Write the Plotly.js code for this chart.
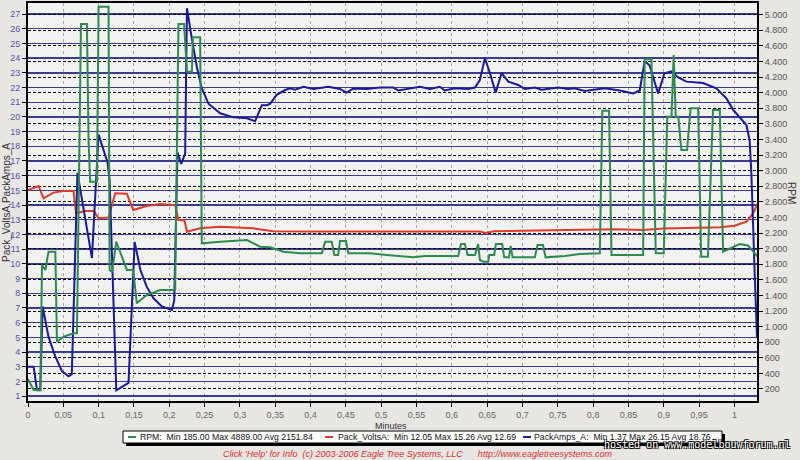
<!DOCTYPE html>
<html>
<head>
<meta charset="utf-8">
<script src="https://cdn.plot.ly/plotly-3.0.1.min.js"></script>
<style>
  html, body { margin: 0; padding: 0; background: #e8e6e2; }
  #chart { width: 800px; height: 460px; }
</style>
</head>
<body>
<div id="chart"></div>
<script>
// ---- Data (minutes, values) ----
const rpmMinutes = [0, 0.008, 0.0174, 0.0198, 0.0246, 0.029, 0.0387, 0.041, 0.0505, 0.0645, 0.0693, 0.075, 0.0834, 0.0857, 0.088, 0.0976, 0.0999, 0.114, 0.1155, 0.119, 0.125, 0.14, 0.149, 0.154, 0.168, 0.187, 0.2083, 0.213, 0.221, 0.225, 0.232, 0.2334, 0.2437, 0.246, 0.272, 0.31, 0.3286, 0.3427, 0.3545, 0.3616, 0.385, 0.416, 0.4205, 0.43, 0.4337, 0.439, 0.4417, 0.4502, 0.4535, 0.484, 0.5078, 0.5454, 0.562, 0.609, 0.6129, 0.6185, 0.6223, 0.6327, 0.6373, 0.6397, 0.6444, 0.6515, 0.653, 0.66, 0.6624, 0.6713, 0.6741, 0.681, 0.6832, 0.686, 0.7175, 0.7213, 0.729, 0.7327, 0.76, 0.781, 0.8095, 0.813, 0.8226, 0.826, 0.8708, 0.873, 0.8826, 0.8887, 0.9, 0.905, 0.911, 0.914, 0.917, 0.9206, 0.9249, 0.933, 0.938, 0.9487, 0.953, 0.9625, 0.9697, 0.9793, 0.984, 1.0075, 1.0193, 1.033];
const rpmValues = [324, 187, 187, 1790, 1726, 1960, 1960, 806, 870, 914, 914, 4880, 4880, 3392, 2858, 2858, 5100, 5100, 1726, 1700, 2088, 1726, 1726, 1299, 1405, 1469, 1469, 4880, 4880, 4268, 4268, 4709, 4709, 2068, 2088, 2110, 2024, 2017, 1982, 1960, 1940, 1940, 2088, 2088, 1918, 1918, 2097, 2097, 1940, 1940, 1918, 1888, 1905, 1905, 2059, 2059, 1918, 1918, 2059, 1854, 1832, 1832, 1918, 1918, 2059, 2059, 1888, 1888, 2034, 1888, 1888, 2047, 2047, 1888, 1905, 1930, 1940, 3768, 3768, 1918, 1918, 4427, 4427, 1940, 1940, 3691, 3691, 4482, 3691, 3691, 3264, 3264, 3799, 3799, 1896, 1896, 3777, 3777, 1960, 2059, 2040, 1896];

const voltsMinutes = [0, 0.015, 0.022, 0.036, 0.05, 0.0645, 0.068, 0.081, 0.093, 0.0999, 0.114, 0.1235, 0.14, 0.149, 0.168, 0.187, 0.2083, 0.213, 0.2215, 0.225, 0.2437, 0.272, 0.319, 0.347, 0.40, 0.45, 0.50, 0.55, 0.60, 0.64, 0.647, 0.66, 0.70, 0.75, 0.79, 0.83, 0.87, 0.90, 0.95, 0.98, 1.0, 1.017, 1.026, 1.033];
const voltsValues = [15.03, 15.3, 14.46, 14.85, 14.96, 14.95, 13.45, 13.6, 13.6, 13.1, 13.15, 14.8, 14.77, 13.67, 13.94, 14.07, 14.0, 12.99, 12.95, 12.19, 12.42, 12.53, 12.42, 12.22, 12.2, 12.2, 12.18, 12.2, 12.2, 12.2, 12.1, 12.22, 12.25, 12.3, 12.35, 12.35, 12.3, 12.4, 12.45, 12.5, 12.6, 12.87, 13.4, 14.1];

const ampsMinutes = [0, 0.008, 0.0127, 0.0174, 0.0207, 0.029, 0.0386, 0.048, 0.0575, 0.062, 0.070, 0.0905, 0.0999, 0.1126, 0.1155, 0.125, 0.1423, 0.151, 0.159, 0.168, 0.1777, 0.1895, 0.2037, 0.207, 0.2116, 0.2168, 0.2225, 0.225, 0.232, 0.239, 0.246, 0.2555, 0.272, 0.291, 0.31, 0.3215, 0.331, 0.338, 0.343, 0.352, 0.364, 0.371, 0.378, 0.39, 0.404, 0.425, 0.4417, 0.451, 0.4606, 0.4795, 0.4983, 0.517, 0.524, 0.5407, 0.555, 0.569, 0.583, 0.59, 0.604, 0.623, 0.6327, 0.6397, 0.6468, 0.654, 0.662, 0.6704, 0.68, 0.694, 0.7034, 0.7175, 0.727, 0.7505, 0.7646, 0.774, 0.788, 0.8166, 0.8377, 0.8566, 0.866, 0.873, 0.88, 0.892, 0.901, 0.911, 0.920, 0.932, 0.9556, 0.9745, 0.9887, 0.998, 1.0075, 1.017, 1.0216, 1.024, 1.0287, 1.032];
const ampsValues = [3.0, 3.0, 1.4, 1.4, 7.1, 5.05, 3.7, 2.7, 2.35, 2.5, 16.2, 10.4, 18.8, 16.9, 15.7, 1.4, 1.9, 11.5, 9.6, 8.45, 7.66, 7.1, 6.86, 7.5, 17.6, 16.8, 17.5, 27.4, 25.3, 23.4, 21.95, 20.9, 20.25, 19.97, 19.9, 19.7, 20.8, 20.8, 20.9, 21.5, 21.83, 21.94, 21.85, 22.05, 21.9, 22.05, 21.9, 21.65, 21.94, 21.9, 22.0, 22.0, 21.8, 21.94, 22.05, 21.9, 22.05, 21.8, 21.95, 21.9, 22.0, 22.5, 24.0, 22.97, 21.65, 22.97, 22.4, 22.17, 21.9, 22.0, 21.85, 22.0, 21.9, 21.95, 21.76, 21.95, 21.8, 21.6, 21.8, 23.8, 23.5, 21.6, 22.97, 23.1, 22.7, 22.4, 22.3, 21.95, 21.26, 20.5, 20.0, 19.45, 18.4, 16.2, 9.4, 5.0];

const seriesNames = ["RPM", "Pack_VoltsA", "PackAmps_A"];
const legendStats = [
  "RPM:  Min 185.00 Max 4889.00 Avg 2151.84",
  "Pack_VoltsA:  Min 12.05 Max 15.26 Avg 12.69",
  "PackAmps_A:  Min 1.37 Max 26.15 Avg 18.76"
];
const colors = ["#2e8b50", "#e03a28", "#1a1a9a"];

// ---- Layout helpers (pixel -> paper) ----
const W = 800, H = 460;
const M = {l: 28, r: 43, t: 3, b: 59};
const PW = W - M.l - M.r, PH = H - M.t - M.b;
const px = x => (x - M.l) / PW;
const py = y => (H - M.b - y) / PH;

const traces = [
  {x: rpmMinutes, y: rpmValues, name: seriesNames[0], yaxis: "y2", type: "scatter", mode: "lines",
   line: {color: colors[0], width: 2}},
  {x: voltsMinutes, y: voltsValues, name: seriesNames[1], yaxis: "y", type: "scatter", mode: "lines",
   line: {color: colors[1], width: 2}},
  {x: ampsMinutes, y: ampsValues, name: seriesNames[2], yaxis: "y", type: "scatter", mode: "lines",
   line: {color: colors[2], width: 2}}
];

const fnt = "Liberation Sans, Arial, sans-serif";
const base = {xref: "paper", yref: "paper", showarrow: false, xanchor: "center", yanchor: "middle"};

const annotations = [
  Object.assign({}, base, {x: px(7), y: py(203), text: "Pack_VoltsA,PackAmps_A", textangle: -90,
   font: {family: fnt, size: 10, color: "#333"}}),
  Object.assign({}, base, {x: px(791), y: py(193), text: "RPM", textangle: 90,
   font: {family: fnt, size: 10, color: "#333"}}),
  Object.assign({}, base, {x: px(391), y: py(426), text: "Minutes",
   font: {family: fnt, size: 9, color: "#333"}}),
  Object.assign({}, base, {x: px(417), y: py(454), text: "Click 'Help' for Info  (c) 2003-2006 Eagle Tree Systems, LLC      http://www.eagletreesystems.com",
   font: {family: fnt, size: 9, color: "#e03030", style: "italic"}})
];
const legendX = [139, 337, 533];
const dashX = [[128, 136], [325, 333], [523, 531]];
legendStats.forEach((s, i) => {
  annotations.push(Object.assign({}, base, {x: px(legendX[i]), y: py(437), xanchor: "left", xshift: -1,
    text: s, font: {family: fnt, size: 8.7, color: "#111"}}));
});
annotations.push(Object.assign({}, base, {x: px(697), y: py(444), text: "hosted on www.modelbouwforum.nl",
   font: {family: "DejaVu Sans Mono, monospace", size: 10, color: "#ffffff",
   shadow: "1px 1px 0 #000, -1px -1px 0 #000, 1px -1px 0 #000, -1px 1px 0 #000"}}));

const shapes = [
  {type: "rect", xref: "paper", yref: "paper", x0: px(126), x1: px(725), y0: py(434), y1: py(446),
   fillcolor: "#000", line: {width: 0}, layer: "below"},
  {type: "rect", xref: "paper", yref: "paper", x0: px(123), x1: px(722), y0: py(431), y1: py(443),
   fillcolor: "#ffffff", line: {color: "#000", width: 1}, layer: "below"}
];
dashX.forEach((d, i) => {
  shapes.push({type: "line", xref: "paper", yref: "paper", x0: px(d[0]), x1: px(d[1]), y0: py(437), y1: py(437),
    line: {color: colors[i], width: 2}, layer: "above"});
});

const layout = {
  width: W, height: H,
  margin: M,
  paper_bgcolor: "#e8e6e2",
  plot_bgcolor: "#f2f2f0",
  separators: ",.",
  showlegend: false,
  xaxis: {
    range: [0, 1.032], dtick: 0.05, tick0: 0,
    showgrid: true, gridcolor: "#a8a8a8", griddash: "3px,3px", gridwidth: 1,
    zeroline: false, showline: true, linecolor: "#000", linewidth: 2, mirror: true,
    ticks: "outside", ticklen: 4, tickcolor: "#000",
    tickfont: {family: fnt, size: 9, color: "#666"}
  },
  yaxis: {
    range: [0.67, 27.75], dtick: 1, tick0: 0,
    showgrid: true, gridcolor: "#3c3c8c", gridwidth: 1.4,
    zeroline: false, showline: true, linecolor: "#000", linewidth: 2,
    ticks: "outside", ticklen: 4, tickcolor: "#000",
    tickfont: {family: fnt, size: 9, color: "#5555b0"}
  },
  yaxis2: {
    overlaying: "y", side: "right",
    range: [46, 5149], dtick: 200, tick0: 0, separatethousands: true, tickformat: ",d",
    showgrid: true, gridcolor: "#000", griddash: "3px,2px", gridwidth: 1,
    zeroline: false, showline: true, linecolor: "#000", linewidth: 2,
    ticks: "outside", ticklen: 4, tickcolor: "#000",
    tickfont: {family: fnt, size: 9, color: "#555"}
  },
  annotations: annotations,
  shapes: shapes
};

Plotly.newPlot("chart", traces, layout, {displayModeBar: false, staticPlot: true});
</script>
</body>
</html>
